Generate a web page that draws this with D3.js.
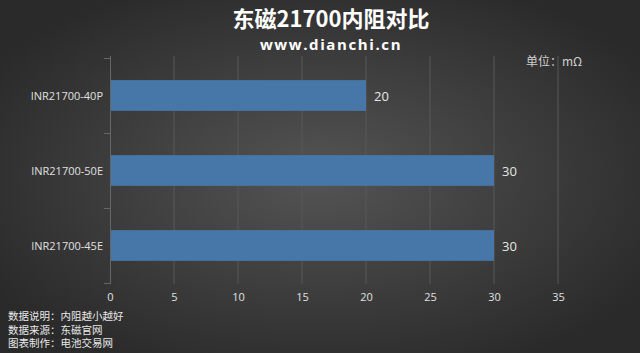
<!DOCTYPE html>
<html><head><meta charset="utf-8">
<script src="https://cdn.jsdelivr.net/npm/d3@7"></script>
<style>body{margin:0;background:#333}svg{display:block}</style>
</head><body>
<svg id="c" width="640" height="353"></svg>
<script>
const categories = ["INR21700-40P", "INR21700-50E", "INR21700-45E"];
const values = [20, 30, 30];
const xTicks = [0, 5, 10, 15, 20, 25, 30, 35];
const titleText = "东磁21700内阻对比";
const subtitleText = "www.dianchi.cn";
const unitText = "单位：mΩ";
const notes = ["数据说明：内阻越小越好", "数据来源：东磁官网", "图表制作：电池交易网"];

const svg = d3.select("#c");
const W = 640, H = 353;
const defs = svg.append("defs");
const rg = defs.append("radialGradient").attr("id","bg").attr("cx","50%").attr("cy","50%").attr("r","60%");
rg.append("stop").attr("offset","0%").attr("stop-color","#545454");
rg.append("stop").attr("offset","100%").attr("stop-color","#2a2a2a");
svg.append("rect").attr("width",W).attr("height",H).attr("fill","url(#bg)");

const x = d3.scaleLinear().domain([0,35]).range([110, 558]);
const y = d3.scaleBand().domain(categories).range([58, 283]).paddingInner(0.59).paddingOuter(0.295);

// gridlines
svg.append("g").selectAll("line").data(xTicks.filter(d=>d>0)).join("line")
  .attr("x1",d=>x(d)).attr("x2",d=>x(d)).attr("y1",56).attr("y2",284)
  .attr("stroke","#585858").attr("stroke-width",1);

// bars
svg.append("g").selectAll("rect").data(values).join("rect")
  .attr("x",x(0)).attr("y",(d,i)=>y(categories[i]))
  .attr("width",d=>x(d)-x(0)).attr("height",y.bandwidth())
  .attr("fill","#4677a8");

// value labels
svg.append("g").selectAll("text").data(values).join("text")
  .attr("x",d=>x(d)+8).attr("y",(d,i)=>y(categories[i])+y.bandwidth()/2+5)
  .attr("fill","#e6e6e6").attr("font-family","'Open Sans', 'Noto Sans', sans-serif").attr("font-size",13)
  .text(d=>d);

// y axis
const boundaries = [58, 133, 208, 283];
const ya = svg.append("g");
ya.append("line").attr("x1",110.5).attr("x2",110.5).attr("y1",56).attr("y2",284).attr("stroke","#666");
ya.selectAll("line.t").data(boundaries).join("line").attr("class","t")
  .attr("x1",104).attr("x2",110).attr("y1",d=>d+0.5).attr("y2",d=>d+0.5).attr("stroke","#666");
ya.selectAll("text").data(categories).join("text")
  .attr("x",103).attr("y",d=>y(d)+y.bandwidth()/2+4)
  .attr("text-anchor","end").attr("fill","#e0e0e0")
  .attr("font-family","'Open Sans', 'Noto Sans', sans-serif").attr("font-size",11)
  .text(d=>d);

// x axis labels
const xa = d3.axisBottom(x).tickValues(xTicks).tickSize(0).tickPadding(0);
const gx = svg.append("g").attr("transform","translate(0,301)").call(xa);
gx.select(".domain").remove();
gx.selectAll("text").attr("fill","#e0e0e0").attr("font-size",11)
  .attr("font-family","'Open Sans', 'Noto Sans', sans-serif").attr("dy","0");

// title
svg.append("text").attr("x",331).attr("y",27).attr("text-anchor","middle")
  .attr("fill","#ffffff").attr("font-weight","bold").attr("font-size",22)
  .attr("font-family","'Noto Sans CJK SC', sans-serif").text(titleText);
svg.append("text").attr("x",331).attr("y",50).attr("text-anchor","middle")
  .attr("fill","#ffffff").attr("font-weight","bold").attr("font-size",15).attr("letter-spacing","1.6")
  .attr("font-family","'Open Sans', 'Noto Sans', sans-serif").text(subtitleText);

// unit
svg.append("text").attr("x",526).attr("y",66).attr("fill","#d0d0d0").attr("font-size",12)
  .attr("font-family","'Noto Sans CJK SC', sans-serif").text(unitText);

// notes
svg.append("g").selectAll("text").data(notes).join("text")
  .attr("x",8).attr("y",(d,i)=>320+i*13.5).attr("fill","#e8e8e8").attr("font-size",10.5)
  .attr("font-family","'Noto Sans CJK SC', sans-serif").text(d=>d);
</script>
</body></html>
